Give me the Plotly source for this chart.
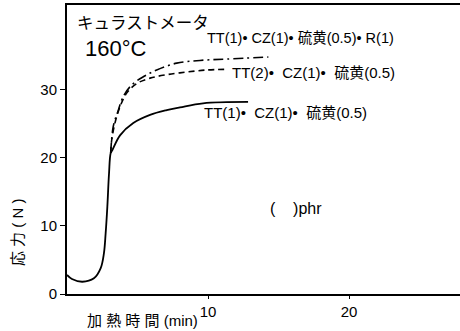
import plotly.graph_objects as go

# --- data (time in min, stress in N) ---
time_tt1 = [0, 0.35, 1.09, 1.91, 2.39, 2.62, 2.74, 2.86, 2.98, 3.1,
            3.21, 3.76, 4.70, 5.89, 7.07, 8.01, 9.65, 12.84]
stress_tt1 = [2.8, 2.2, 1.8, 2.3, 3.8, 6.0, 8.9, 12.8, 17.7, 20.7,
              21.1, 23.3, 25.1, 26.3, 27.0, 27.4, 28.0, 28.2]

time_tt2 = [3.1, 3.17, 3.40, 3.76, 4.23, 4.94, 5.89, 7.07, 8.49, 9.91, 11.33]
stress_tt2 = [20.7, 22.6, 25.1, 27.5, 29.5, 30.9, 31.7, 32.2, 32.6, 32.9, 33.0]

time_r1 = [3.1, 3.28, 3.64, 3.99, 4.59, 5.41, 6.36, 7.78, 9.43, 11.33, 14.28]
stress_r1 = [20.7, 24.6, 27.0, 29.0, 30.7, 31.9, 32.9, 33.9, 34.3, 34.5, 34.8]

x_ticks = [10, 20]
y_ticks = [0, 10, 20, 30]

label_r1 = "TT(1)• CZ(1)• 硫黄(0.5)• R(1)"
label_tt2 = "TT(2)•&nbsp; CZ(1)•&nbsp; 硫黄(0.5)"
label_tt1 = "TT(1)•&nbsp; CZ(1)•&nbsp; 硫黄(0.5)"

FONT = "Liberation Sans, Noto Sans CJK JP, sans-serif"

fig = go.Figure()
fig.add_trace(go.Scatter(x=time_tt1, y=stress_tt1, mode="lines",
                         line=dict(color="black", width=1.8, shape="spline")))
fig.add_trace(go.Scatter(x=time_tt2, y=stress_tt2, mode="lines",
                         line=dict(color="black", width=1.6, shape="spline", dash="6px,4px")))
fig.add_trace(go.Scatter(x=time_r1, y=stress_r1, mode="lines",
                         line=dict(color="black", width=1.6, shape="spline", dash="10px,4px,2px,4px")))

ann = []
def txt(x, y, s, size, xanchor="left", yanchor="middle", xref="x", yref="y", angle=0):
    ann.append(dict(x=x, y=y, xref=xref, yref=yref, text=s, showarrow=False,
                    xanchor=xanchor, yanchor=yanchor, textangle=angle,
                    font=dict(family=FONT, size=size, color="black")))

txt(0.57, 39.8, "キュラストメータ", 16.5)
txt(1.13, 36.0, "160°C", 22)
txt(9.79, 37.6, label_r1, 14.5)
txt(11.56, 32.6, label_tt2, 15)
txt(9.57, 26.7, label_tt1, 15)
txt(14.26, 12.5, "(&nbsp;&nbsp;&nbsp;&nbsp;)phr", 16)
txt(-0.127, 0.2145, "応 力 ( N )", 15, xanchor="center", xref="paper", yref="paper", angle=-90)
txt(0.193, -0.128, "加 熱 時 間 (min)", 15, xanchor="center", yanchor="bottom",
    xref="paper", yref="paper")

fig.update_layout(
    width=460, height=331,
    margin=dict(l=67, r=0, t=5, b=37),
    paper_bgcolor="white", plot_bgcolor="white",
    showlegend=False,
    annotations=ann,
    xaxis=dict(range=[0, 27.87], tickvals=x_ticks, showgrid=False, zeroline=False,
               showline=True, linecolor="black", linewidth=2, mirror=True,
               ticks="outside", ticklen=3, tickcolor="black", ticklabelstandoff=0,
               tickfont=dict(family=FONT, size=15, color="black")),
    yaxis=dict(range=[0, 42.44], tickvals=y_ticks, showgrid=False, zeroline=False,
               showline=True, linecolor="black", linewidth=2,
               ticks="outside", ticklen=5, tickcolor="black",
               tickfont=dict(family=FONT, size=15, color="black")),
)

fig.write_html("out.html", config={"displayModeBar": False},
               post_script="document.body.style.margin='0';document.body.style.overflow='hidden';")
